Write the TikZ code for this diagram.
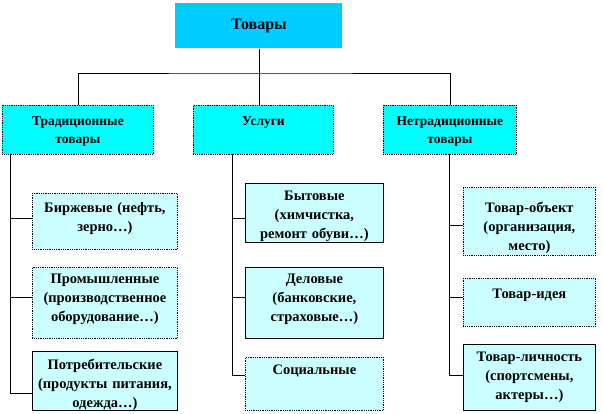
\documentclass[tikz,border=0pt]{standalone}
\usepackage{fontspec}
\setmainfont{Liberation Serif}[BoldFont={Liberation Serif Bold}]
\definecolor{headfill}{HTML}{00CCFF}
\definecolor{groupfill}{HTML}{00FFFF}
\definecolor{itemfill}{HTML}{CCFFFF}
\tikzset{
  head/.style={fill=headfill, anchor=north west, minimum width=167, minimum height=45,
    font=\bfseries\fontsize{16}{19}\selectfont},
  group/.style={draw, densely dotted, fill=groupfill, anchor=north west, inner xsep=2, inner ysep=0,
    align=center, text height=20, text depth=29, font=\bfseries\fontsize{13.5}{18}\selectfont},
  item/.style={draw, fill=itemfill, anchor=north west, inner xsep=2, inner ysep=0,
    align=center, font=\bfseries\fontsize{14.5}{19}\selectfont},
  dots/.style={densely dotted},
}
\begin{document}
\begin{tikzpicture}[x=1pt,y=-1pt,line width=.8pt]
\useasboundingbox (0,0) rectangle (603,413);
% top level
\node[head] (goods) at (175,3) {Товары};
\node[group, text width=147] (trad) at (2,105) {Традиционные\\товары};
\node[group, text width=136] (serv) at (193,105) {Услуги};
\node[group, text width=129] (nontrad) at (383,105) {Нетрадиционные\\товары};
\coordinate (bus) at (257,73);
\draw (goods.south) -- (goods.south |- serv.north);
\draw (trad.north) |- (bus) -| (nontrad.north);
% traditional goods
\node[item, dots, text width=141, text height=19, text depth=37] (exch) at (32,193) {Биржевые (нефть,\\зерно…)};
\node[item, dots, text width=141, text height=16, text depth=55] (ind) at (32,267) {Промышленные\\(производственное\\оборудование…)};
\node[item, text width=141, text height=18, text depth=41] (cons) at (32,351) {Потребительские\\(продукты питания,\\одежда…)};
\coordinate (tradtrunk) at (10,154);
\draw (tradtrunk) |- ([yshift=3]exch.west);
\draw (tradtrunk) |- ([yshift=5.5]ind.west);
\draw (tradtrunk) |- ([yshift=-12.5]cons.west);
% services
\node[item, text width=134, text height=17, text depth=42] (home) at (245,183) {Бытовые\\(химчистка,\\ремонт обуви…)};
\node[item, text width=134, text height=16, text depth=55] (biz) at (245,267) {Деловые\\(банковские,\\страховые…)};
\node[item, dots, text width=134, text height=17, text depth=36] (soc) at (245,357) {Социальные};
\coordinate (servtrunk) at (232,154);
\draw (servtrunk) |- ([yshift=-5.5]home.west);
\draw (servtrunk) |- ([yshift=5.5]biz.west);
\draw (servtrunk) |- ([yshift=8.5]soc.west);
% non-traditional goods
\node[item, dots, text width=128, text height=25, text depth=43] (obj) at (463,187) {Товар-объект\\(организация,\\место)};
\node[item, dots, text width=128, text height=20, text depth=28] (idea) at (463,278) {Товар-идея};
\node[item, text width=128, text height=17, text depth=49] (pers) at (463,344) {Товар-личность\\(спортсмены,\\актеры…)};
\coordinate (nontrunk) at (449,154);
\draw (nontrunk) |- ([yshift=-4]obj.west);
\draw (nontrunk) |- ([yshift=5]idea.west);
\draw (nontrunk) |- ([yshift=2]pers.west);
\end{tikzpicture}
\end{document}
